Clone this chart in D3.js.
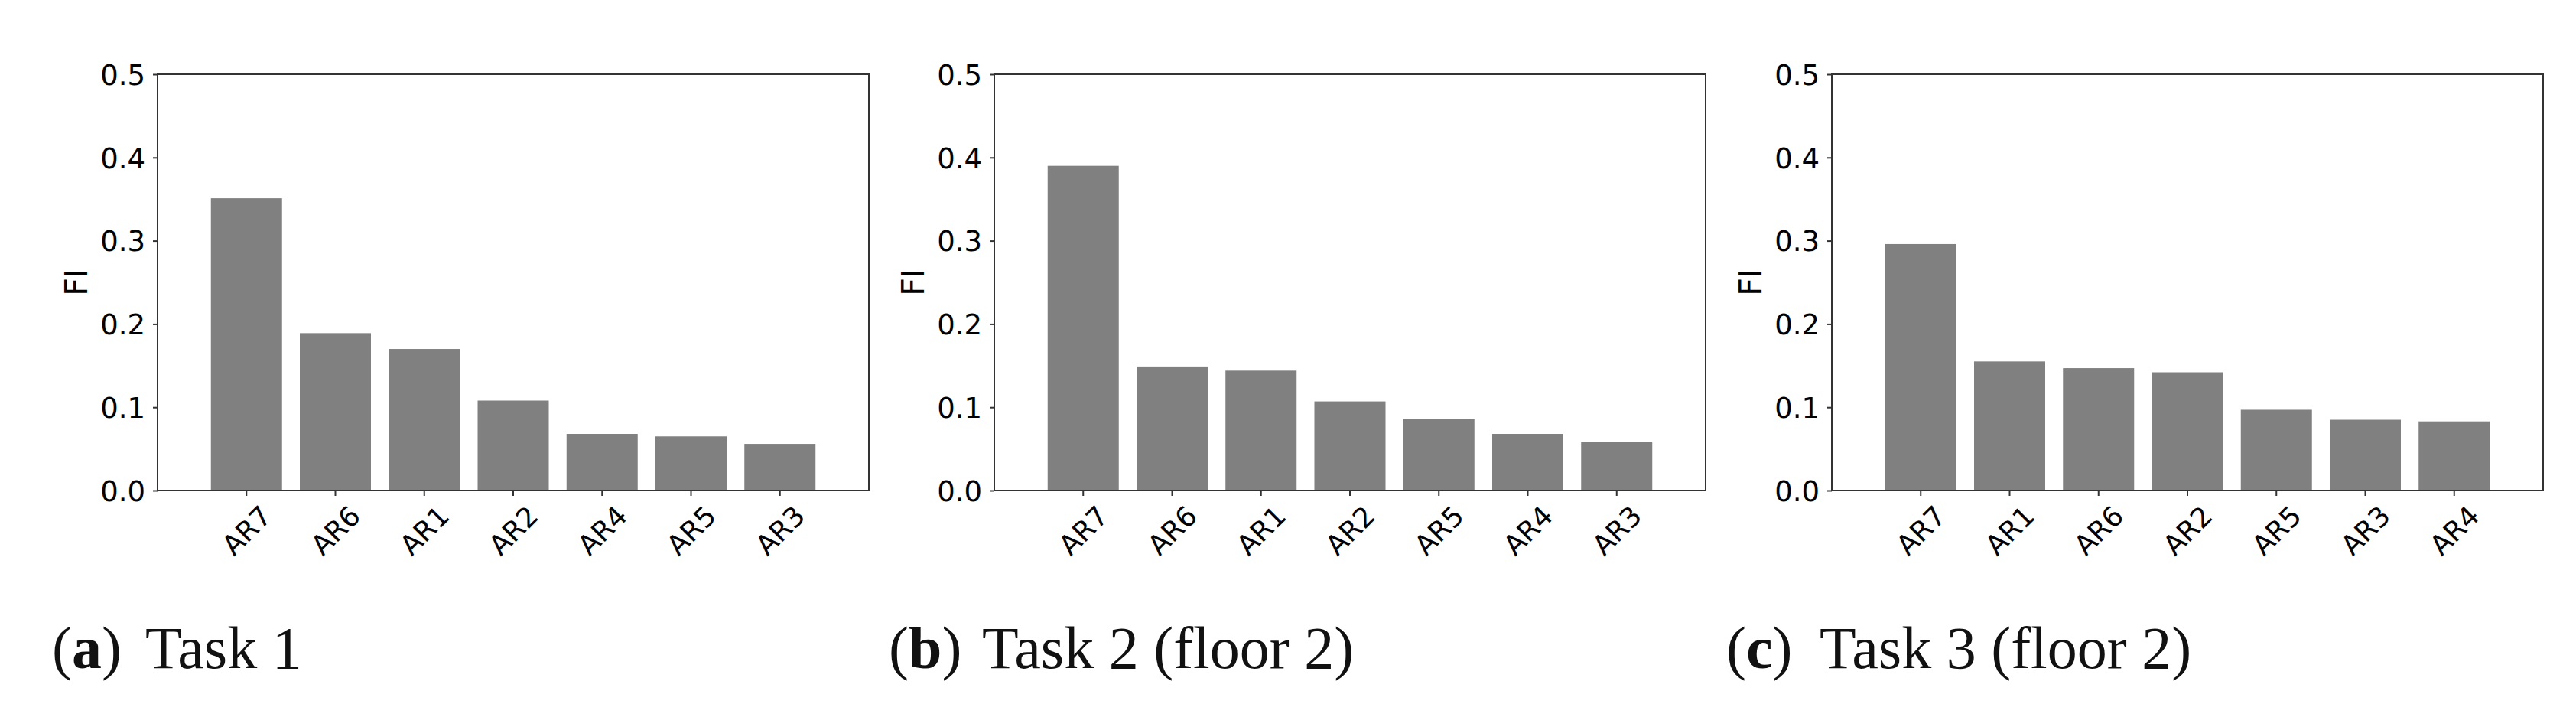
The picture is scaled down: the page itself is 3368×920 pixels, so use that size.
<!DOCTYPE html>
<html>
<head>
<meta charset="utf-8">
<script src="https://cdn.jsdelivr.net/npm/d3@7"></script>
<style>
  body { margin: 0; background: #fff; }
  .tick text { font-family: "DejaVu Sans", sans-serif; fill: #000; }
</style>
</head>
<body>
<div id="chart"></div>
<script>
// data
var catsA = ["AR7", "AR6", "AR1", "AR2", "AR4", "AR5", "AR3"];
var valsA = [0.351, 0.189, 0.170, 0.108, 0.068, 0.065, 0.056];

var catsB = ["AR7", "AR6", "AR1", "AR2", "AR5", "AR4", "AR3"];
var valsB = [0.390, 0.149, 0.144, 0.107, 0.086, 0.068, 0.058];

var catsC = ["AR7", "AR1", "AR6", "AR2", "AR5", "AR3", "AR4"];
var valsC = [0.296, 0.155, 0.147, 0.142, 0.097, 0.085, 0.083];

var yTicks = [0.0, 0.1, 0.2, 0.3, 0.4, 0.5];
var yLabel = "FI";
var captionLetters = ["a", "b", "c"];
var captionTexts = ["Task 1", "Task 2 (floor 2)", "Task 3 (floor 2)"];

var width = 3368, height = 920;
var svg = d3.select("#chart").append("svg")
  .attr("width", width)
  .attr("height", height);

svg.append("rect")
  .attr("width", width)
  .attr("height", height)
  .attr("fill", "#fff");

var panels = [
  {cats: catsA, vals: valsA, left: 206},
  {cats: catsB, vals: valsB, left: 1300},
  {cats: catsC, vals: valsC, left: 2395}
];
var plotW = 930, plotTop = 97, plotBottom = 641;

var y = d3.scaleLinear().domain([0, 0.5]).range([plotBottom, plotTop]);

panels.forEach(function(p, i) {
  var g = svg.append("g").attr("transform", "translate(" + p.left + ",0)");

  var x = d3.scaleBand()
    .domain(p.cats)
    .range([0, plotW])
    .paddingInner(0.2)
    .paddingOuter(0.6);

  g.selectAll("rect.bar")
    .data(p.vals)
    .enter()
    .append("rect")
    .attr("class", "bar")
    .attr("x", function(d, j) { return x(p.cats[j]); })
    .attr("y", function(d) { return y(d); })
    .attr("width", x.bandwidth())
    .attr("height", function(d) { return y(0) - y(d); })
    .attr("fill", "#808080");

  // y axis
  var yAxis = g.append("g")
    .call(d3.axisLeft(y).tickValues(yTicks).tickFormat(d3.format(".1f"))
      .tickSize(6).tickPadding(10));
  yAxis.select(".domain").remove();
  yAxis.selectAll(".tick line").attr("stroke", "#333").attr("stroke-width", 2);
  yAxis.selectAll(".tick text").attr("font-size", 37).attr("dy", "0.36em");

  // x axis
  var xAxis = g.append("g")
    .attr("transform", "translate(0," + plotBottom + ")")
    .call(d3.axisBottom(x).tickSize(7).tickPadding(0));
  xAxis.select(".domain").remove();
  xAxis.selectAll(".tick line").attr("stroke", "#333").attr("stroke-width", 2);
  xAxis.selectAll(".tick text")
    .attr("font-size", 36)
    .attr("text-anchor", "middle")
    .attr("y", 0)
    .attr("dy", "0.36em")
    .attr("transform", "translate(0,52) rotate(-45)");

  // frame
  g.append("rect")
    .attr("x", 0)
    .attr("y", plotTop)
    .attr("width", plotW)
    .attr("height", plotBottom - plotTop)
    .attr("fill", "none")
    .attr("stroke", "#333")
    .attr("stroke-width", 2);

  // y label
  g.append("text")
    .attr("transform", "translate(-92," + ((plotTop + plotBottom) / 2) + ") rotate(-90)")
    .attr("text-anchor", "middle")
    .attr("font-family", "DejaVu Sans, sans-serif")
    .attr("font-size", 41)
    .attr("fill", "#000")
    .text(yLabel);

  // caption
  var capX = p.left - 138;
  var cap = svg.append("text")
    .attr("x", capX)
    .attr("y", 873)
    .attr("font-family", "Liberation Serif, serif")
    .attr("font-size", 78)
    .attr("fill", "#111");
  cap.append("tspan").text("(");
  cap.append("tspan").attr("font-weight", "bold").text(captionLetters[i]);
  cap.append("tspan").text(")");
  svg.append("text")
    .attr("x", capX + 122)
    .attr("y", 873)
    .attr("font-family", "Liberation Serif, serif")
    .attr("font-size", 78)
    .attr("fill", "#111")
    .text(captionTexts[i]);
});
</script>
</body>
</html>
